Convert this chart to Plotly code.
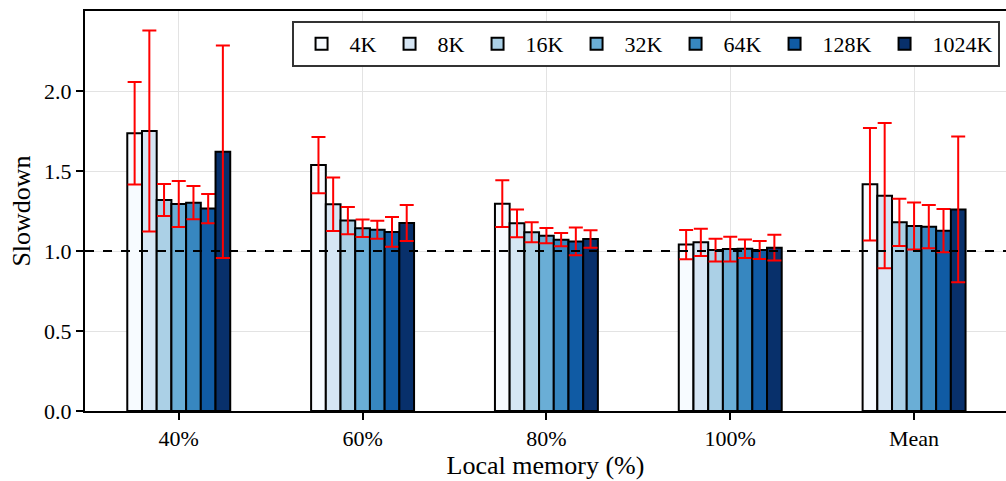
import plotly.graph_objects as go

categories = ["40%", "60%", "80%", "100%", "Mean"]
series_names = ["4K", "8K", "16K", "32K", "64K", "128K", "1024K"]
colors = ["#f7fbff", "#d6e6f4", "#abd0e6", "#6aaed6", "#3787c0", "#105ba4", "#08306b"]

# values[series][category]
values = [
    [1.736, 1.537, 1.296, 1.040, 1.417],
    [1.750, 1.292, 1.173, 1.054, 1.346],
    [1.319, 1.190, 1.117, 1.006, 1.179],
    [1.294, 1.142, 1.096, 1.012, 1.156],
    [1.302, 1.133, 1.071, 1.014, 1.152],
    [1.265, 1.119, 1.060, 1.006, 1.127],
    [1.621, 1.175, 1.075, 1.021, 1.260],
]
errors = [
    [0.320, 0.176, 0.146, 0.092, 0.352],
    [0.628, 0.167, 0.087, 0.085, 0.454],
    [0.100, 0.085, 0.062, 0.071, 0.147],
    [0.144, 0.055, 0.047, 0.077, 0.147],
    [0.104, 0.056, 0.042, 0.058, 0.135],
    [0.092, 0.093, 0.087, 0.056, 0.135],
    [0.664, 0.112, 0.054, 0.080, 0.455],
]

bar_w = 0.08
x_base = list(range(len(categories)))
font_family = "Liberation Serif, DejaVu Serif, serif"

fig = go.Figure()
n = len(series_names)
for i, name in enumerate(series_names):
    off = (i - (n - 1) / 2) * bar_w
    fig.add_trace(go.Bar(
        x=[xb + off for xb in x_base],
        y=values[i],
        width=bar_w,
        name=name,
        marker=dict(color=colors[i], line=dict(color="black", width=2)),
        error_y=dict(type="data", array=errors[i], visible=True,
                     color="red", thickness=2, width=7),
    ))

fig.add_hline(y=1.0, line=dict(color="black", width=2, dash="dash"))

fig.update_layout(
    width=1006, height=481,
    margin=dict(l=85, r=0, t=11, b=70),
    plot_bgcolor="white", paper_bgcolor="white",
    font=dict(family=font_family, size=22, color="black"),
    barmode="overlay",
    showlegend=True,
    legend=dict(
        orientation="h", x=0.993, xanchor="right", y=0.975, yanchor="top",
        bgcolor="white", bordercolor="#333333", borderwidth=2,
        font=dict(family=font_family, size=22, color="black"),
        itemwidth=46, tracegroupgap=0,
    ),
    xaxis=dict(
        range=[-0.51, 4.5],
        tickmode="array", tickvals=x_base, ticktext=categories,
        showline=True, linecolor="black", linewidth=2, mirror=True,
        ticks="outside", ticklen=7, tickwidth=2, tickcolor="black",
        showgrid=True, gridcolor="#e3e3e3", gridwidth=1,
        zeroline=False,
        title=dict(text="Local memory (%)", standoff=3, font=dict(size=26)),
        tickfont=dict(size=22),
    ),
    yaxis=dict(
        range=[0, 2.5],
        tickmode="array", tickvals=[0, 0.5, 1.0, 1.5, 2.0],
        ticktext=["0.0", "0.5", "1.0", "1.5", "2.0"],
        showline=True, linecolor="black", linewidth=2,
        ticks="outside", ticklen=7, tickwidth=2, tickcolor="black",
        showgrid=True, gridcolor="#e3e3e3", gridwidth=1,
        zeroline=False,
        title=dict(text="Slowdown", standoff=6, font=dict(size=26)),
        tickfont=dict(size=22),
    ),
)

fig.write_html("out.html")
